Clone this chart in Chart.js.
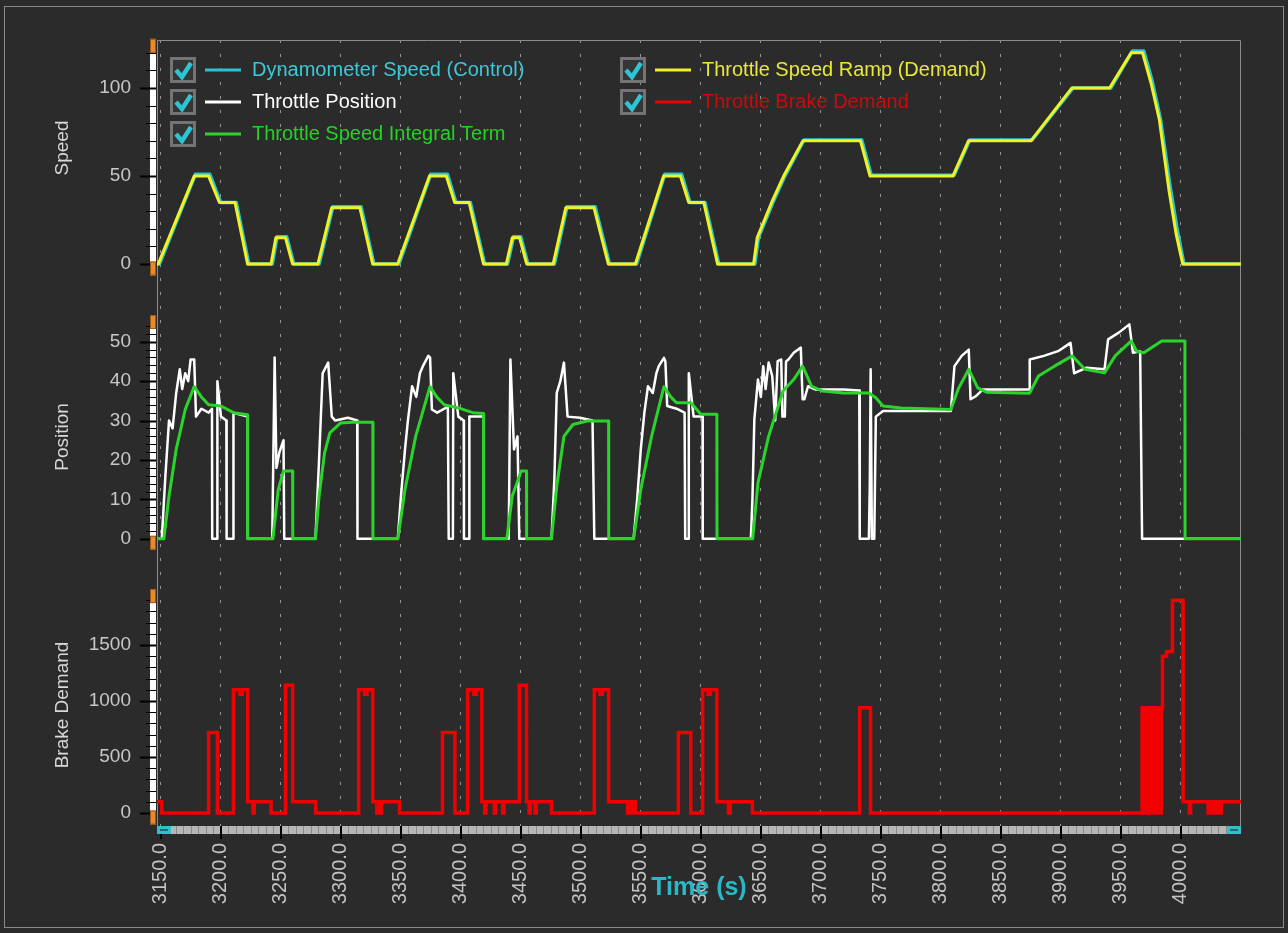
<!DOCTYPE html>
<html>
<head>
<meta charset="utf-8">
<title>Throttle / dyno log</title>
<script src="https://cdn.jsdelivr.net/npm/chart.js@4.4.1/dist/chart.umd.min.js"></script>
<style>
  html, body { margin: 0; padding: 0; background: #2b2b2b; }
  #wrap { position: relative; width: 1288px; height: 933px; }
</style>
</head>
<body>
<div id="wrap"><canvas id="myChart"></canvas></div>
<script>
// time ticks (s) and per-panel tick labels
const timeTicks = [3150, 3200, 3250, 3300, 3350, 3400, 3450, 3500, 3550, 3600, 3650, 3700, 3750, 3800, 3850, 3900, 3950, 4000];
const speedTicks = [0, 50, 100];
const posTicks = [0, 10, 20, 30, 40, 50];
const brakeTicks = [0, 500, 1000, 1500];

// Throttle Speed Ramp (Demand)
const rampT = [3147, 3148, 3178, 3190, 3199, 3212, 3222.5, 3242, 3246, 3254, 3260, 3281, 3292.5, 3316, 3326.7, 3347.5,
  3374, 3388, 3395, 3407, 3419, 3438, 3443, 3449, 3455, 3477, 3487.5, 3511, 3523, 3545.5, 3569, 3583,
  3590, 3602.5, 3614, 3644, 3647, 3659, 3669, 3685, 3733, 3741, 3810, 3823, 3875, 3909, 3940.5, 3958.5,
  3968, 3975, 3982, 3990, 3996, 4001.5, 4050];
const rampV = [0, 0, 50, 50, 35, 35, 0, 0, 15, 15, 0, 0, 32, 32, 0, 0,
  50, 50, 35, 35, 0, 0, 15, 15, 0, 0, 32, 32, 0, 0, 50, 50,
  35, 35, 0, 0, 15, 35, 50, 70, 70, 50, 50, 70, 70, 100, 100, 120,
  120, 103, 82, 42, 17, 0, 0];

// Dynamometer Speed (Control)
const dynT = [3147, 3149, 3179, 3191, 3200, 3213, 3223.5, 3243, 3247, 3255, 3261, 3282, 3293.5, 3317, 3327.7, 3348.5,
  3375, 3389, 3396, 3408, 3420, 3439, 3444, 3450, 3456, 3478, 3488.5, 3512, 3524, 3546.5, 3570, 3584,
  3591, 3603.5, 3615, 3645, 3648, 3660, 3670, 3686, 3734, 3742, 3811, 3824, 3876, 3910, 3941.5, 3959.5,
  3969, 3976, 3983, 3991, 3997, 4002.5, 4050];
const dynV = [0, 0, 51, 51, 35, 35, 0, 0, 15.5, 15.5, 0, 0, 32.5, 32.5, 0, 0,
  51, 51, 35, 35, 0, 0, 15.5, 15.5, 0, 0, 32.5, 32.5, 0, 0, 51, 51,
  35, 35, 0, 0, 15, 35, 50, 70.5, 70.5, 50.5, 50.5, 70.5, 70.5, 100, 100, 121,
  121, 104, 82, 44, 19, 0, 0];

// Throttle Position
const throttleT = [
  3147, 3151, 3154, 3157, 3160, 3163, 3166, 3168, 3170.5, 3173, 3175, 3178, 3179.5, 3184, 3190, 3192.8, 3193, 3197, 3197.3, 3200.3, 3204.8, 3205, 3210.5, 3210.7, 3222.5, 3222.6,
  3243, 3245, 3246.5, 3249, 3252.4, 3253,
  3279, 3282, 3285, 3289.6, 3292.6, 3295.5, 3306, 3313.8, 3314,
  3347.6, 3350, 3353.6, 3356, 3359.5, 3363, 3366, 3368.5, 3373, 3374.5, 3376, 3380.4, 3389.3, 3390, 3393.5, 3393.8, 3398, 3402.5, 3402.7, 3407, 3407.2, 3419, 3419.1,
  3440, 3441.4, 3444.4, 3447.3, 3448.8,
  3475.6, 3478, 3480, 3483, 3486, 3489, 3499.4, 3509.8, 3511.3,
  3544, 3547, 3550, 3553, 3556, 3560, 3563, 3565, 3569.3, 3570.5, 3572, 3579.8, 3586.5, 3587, 3589.8, 3590, 3594, 3601.5, 3601.6,
  3641.7, 3643, 3644.6, 3647.6, 3650, 3652, 3654, 3656.5, 3659.5, 3662, 3664, 3667, 3668, 3670, 3671, 3673, 3677.4, 3683.3, 3684.8, 3686.3,
  3689.3, 3695.2, 3719, 3732, 3732.4, 3740, 3740.8, 3741.5, 3742.5, 3744.5, 3745.8, 3751.8, 3808.3, 3811.3, 3817.3, 3823.2, 3824.7, 3829.2, 3835, 3873.8,
  3874, 3885.7, 3897.6, 3908, 3911, 3921.4, 3936.3, 3939.3, 3948.2, 3957, 3960, 3966, 3967.6, 4050];
const throttleV = [
  0, 0, 16, 30, 28, 37, 43, 38, 42, 40, 45.5, 45.5, 31, 33, 32, 33, 0, 0, 40, 31, 30, 0, 0, 32, 31, 0,
  0, 46, 18, 22, 25, 0,
  0, 20, 42, 44.7, 31, 30, 30.7, 30, 0,
  0, 10, 22.7, 30, 38.7, 36, 42, 43.8, 46.4, 46, 32.8, 32, 33.5, 0, 0, 42, 31, 30, 0, 0, 31, 31, 0,
  0, 45.5, 22.7, 26, 0,
  0, 15, 37, 40, 44.7, 31, 30.7, 30, 0,
  0, 10, 22.7, 32, 38.7, 37, 42, 43.8, 45.9, 45, 33.7, 33, 32, 0, 0, 42, 31, 31, 0,
  0, 10, 30.3, 40.4, 36, 43.8, 38, 44.7, 41.3, 30, 45.1, 45.5, 31, 31, 45, 45.5, 47.2, 48.5, 35.4, 35.4,
  38.7, 37.9, 37.9, 37.6, 0, 0, 14, 43, 0, 0, 31, 32.4, 32.4, 43.8, 46.4, 48, 35.4, 36.2, 37.9, 37.9,
  45.5, 46.4, 47.6, 49.7, 42, 43.4, 43, 50.6, 52.3, 54.4, 47.2, 47.6, 0, 0];

// Throttle Speed Integral Term
const integralT = [3147, 3152.7, 3157, 3163, 3170.5, 3178, 3184, 3190, 3200.3, 3210.7,
  3222.5, 3222.6, 3243.5, 3248, 3252.4, 3260, 3260.1, 3279, 3282, 3286.6,
  3291, 3300, 3310, 3326.8, 3326.9, 3347.6, 3353.6, 3362.5, 3374.4, 3380,
  3386.3, 3398.2, 3410, 3419, 3419.1, 3438.4, 3442.9, 3450.3, 3454.8, 3454.9,
  3475.6, 3480, 3486, 3493.5, 3505.4, 3523.2, 3523.3, 3544, 3550, 3559,
  3569.3, 3575, 3579.8, 3591.7, 3600, 3613.4, 3613.5, 3643.2, 3647.6, 3656.5,
  3668.5, 3677.4, 3684.8, 3692.3, 3701.2, 3719, 3740, 3745.8, 3751.8, 3766.7,
  3808.3, 3814.3, 3823.2, 3830.7, 3838, 3873.8, 3881.3, 3894.6, 3909.5, 3920,
  3936.3, 3945.2, 3958.6, 3963, 3969, 3984, 4003.3, 4003.4, 4050];
const integralV = [0, 0, 10.8, 22.7, 32.8, 38.6, 36, 34, 33.7, 32,
  31.5, 0, 0, 12.5, 17.2, 17.2, 0, 0, 10.8, 21.8,
  26.9, 29.4, 29.6, 29.6, 0, 0, 12.5, 26, 38.6, 36,
  34, 33.2, 32, 31.8, 0, 0, 10.8, 17.2, 17.2, 0,
  0, 13.4, 26, 29, 29.9, 29.9, 0, 0, 12.5, 26,
  38.6, 36, 34.5, 34.5, 31.6, 31.6, 0, 0, 14.2, 26,
  37.5, 40.4, 43.8, 38.7, 37.5, 37, 37, 35.8, 33.7, 33.2,
  32.8, 37.9, 43, 38.3, 37.2, 36.9, 41.3, 43.8, 46.4, 43,
  42.1, 46.4, 50.2, 47.6, 47.2, 50.2, 50.2, 0, 0];

// Throttle Brake Demand (value holds from each time until the next)
const brakeT = [
  3147, 3151, 3190, 3197.3, 3210.7, 3216, 3218, 3222.6, 3227, 3228, 3242, 3254, 3260, 3279.2,
  3315, 3320, 3322, 3326.8, 3330, 3331, 3333, 3334, 3349, 3384.8, 3395.2,
  3405.7, 3411, 3413, 3417.6, 3420, 3421, 3428, 3429, 3435, 3436, 3448.8, 3454.8, 3457, 3458, 3462, 3463, 3475.6,
  3511.3, 3516, 3518, 3523.2, 3539, 3540, 3542, 3543, 3545.5, 3581.3, 3591.7,
  3601.5, 3606, 3608, 3613.4, 3623, 3624.5, 3643, 3732.4, 3741.4,
  3967.6, 3968.6, 3969.6, 3970.6, 3971.6, 3972.6, 3973.6, 3974.6, 3975.6, 3976.6, 3977.6, 3978.6, 3979.6, 3980.6, 3981.6, 3982.6, 3983.6, 3984.6, 3988, 3992.9, 4001.8,
  4007, 4008, 4022.6, 4023.6, 4024.6, 4025.6, 4026.6, 4027.6, 4028.6, 4029.6, 4030.6, 4031.6, 4032.6, 4033.6, 4050];
const brakeV = [
  100, 0, 720, 0, 1100, 1060, 1100, 100, 0, 100, 0, 1140, 100, 0,
  1100, 1060, 1100, 100, 0, 100, 0, 100, 0, 720, 0,
  1100, 1060, 1100, 100, 0, 100, 0, 100, 0, 100, 1140, 100, 0, 100, 0, 100, 0,
  1100, 1060, 1100, 100, 0, 100, 0, 100, 0, 720, 0,
  1100, 1060, 1100, 100, 0, 100, 0, 940, 0,
  940, 0, 940, 0, 940, 0, 940, 0, 940, 0, 940, 0, 940, 0, 940, 0, 940, 1400, 1440, 1900, 100,
  0, 100, 0, 100, 0, 100, 0, 100, 0, 100, 0, 100, 0, 100, 100];

const FONT = '"Liberation Sans", Arial, sans-serif';
const toPoints = (ts, vs) => ts.map((t, i) => ({x: t, y: vs[i]}));
const setTicks = list => axis => { axis.ticks = list.map(v => ({value: v})); };

// left ruler: range marked by orange handles, minor/major tick steps
const rulers = [
  {id: 'ySpeed', lo: -2.5, hi: 124, minor: 10, major: 50},
  {id: 'yPos', lo: -1, hi: 55, minor: 2, major: 10},
  {id: 'yBrake', lo: -40, hi: 1937, minor: 100, major: 500}
];

const legendItems = [
  {ds: 1, col: 0, row: 0, text: '#3cc8d8'},
  {ds: 3, col: 0, row: 1, text: '#ffffff'},
  {ds: 2, col: 0, row: 2, text: '#22d422'},
  {ds: 0, col: 1, row: 0, text: '#e8e83c'},
  {ds: 4, col: 1, row: 1, text: '#c80c0c'}
];

const yAxis = (weight, min, max, ticks) => ({
  type: 'linear', position: 'left', stack: 'panels', stackWeight: weight,
  min: min, max: max,
  afterBuildTicks: setTicks(ticks),
  afterFit: s => { s.width = 150; },
  grid: {display: false, drawTicks: false},
  border: {display: false},
  ticks: {color: '#c8c8c8', font: {family: FONT, size: 19}, padding: 26, callback: v => String(v)}
});

const decor = {
  id: 'decor',
  beforeDraw(chart) {
    const ctx = chart.ctx;
    ctx.save();
    ctx.fillStyle = '#2b2b2b';
    ctx.fillRect(0, 0, chart.width, chart.height);
    ctx.strokeStyle = '#8a8a8a';
    ctx.lineWidth = 1;
    ctx.strokeRect(4.5, 6.5, chart.width - 9, chart.height - 12);
    ctx.restore();
  },
  beforeDatasetsDraw(chart) {
    const {ctx, chartArea: a} = chart;
    ctx.save();
    ctx.strokeStyle = '#8c8c8c';
    ctx.lineWidth = 1;
    ctx.beginPath();
    ctx.moveTo(a.left + 0.5, a.bottom);
    ctx.lineTo(a.left + 0.5, a.top + 0.5);
    ctx.lineTo(a.right - 0.5, a.top + 0.5);
    ctx.lineTo(a.right - 0.5, a.bottom);
    ctx.stroke();
    ctx.restore();
  },
  afterDatasetsDraw(chart) {
    const ctx = chart.ctx;
    ctx.save();
    ctx.font = '20px ' + FONT;
    ctx.textBaseline = 'middle';
    legendItems.forEach(it => {
      const ds = chart.data.datasets[it.ds];
      const bx = [170, 620][it.col];
      const y = 70 + it.row * 32;
      ctx.fillStyle = '#353535';
      ctx.fillRect(bx, y - 13, 26, 26);
      ctx.strokeStyle = '#747474';
      ctx.lineWidth = 3;
      ctx.strokeRect(bx + 1.5, y - 11.5, 23, 23);
      ctx.strokeStyle = '#2ec4d4';
      ctx.lineWidth = 4.5;
      ctx.lineCap = 'butt';
      ctx.beginPath();
      ctx.moveTo(bx + 6, y);
      ctx.lineTo(bx + 12, y + 7);
      ctx.lineTo(bx + 21, y - 7);
      ctx.stroke();
      ctx.strokeStyle = ds.borderColor;
      ctx.lineWidth = 3;
      ctx.beginPath();
      ctx.moveTo(bx + 35, y);
      ctx.lineTo(bx + 71, y);
      ctx.stroke();
      ctx.fillStyle = it.text;
      ctx.fillText(ds.label, bx + 82, y);
    });
    ctx.restore();
  },
  afterDraw(chart) {
    const {ctx, chartArea: a} = chart;
    ctx.save();
    // left rulers
    rulers.forEach(r => {
      const s = chart.scales[r.id];
      const yTop = s.getPixelForValue(r.hi);
      const yBot = s.getPixelForValue(r.lo);
      ctx.fillStyle = '#ffffff';
      ctx.fillRect(a.left - 7, yTop, 6, yBot - yTop);
      for (let v = Math.ceil(r.lo / r.minor) * r.minor; v <= r.hi; v += r.minor) {
        const y = Math.round(s.getPixelForValue(v)) + 0.5;
        const major = Math.abs(v % r.major) < 1e-6;
        ctx.strokeStyle = '#000000';
        ctx.lineWidth = major ? 2 : 1;
        ctx.beginPath();
        ctx.moveTo(a.left - (major ? 17 : 11), y);
        ctx.lineTo(a.left - 1, y);
        ctx.stroke();
      }
      [yTop, yBot].forEach(y => {
        ctx.fillStyle = '#e8892c';
        ctx.fillRect(a.left - 7, y - 7, 6, 14);
        ctx.strokeStyle = '#a05a16';
        ctx.lineWidth = 1;
        ctx.strokeRect(a.left - 6.5, y - 6.5, 5, 13);
      });
    });
    // bottom strip
    const xs = chart.scales.x;
    ctx.fillStyle = '#b6b6b6';
    ctx.fillRect(a.left, a.bottom, a.right - a.left, 8);
    ctx.strokeStyle = '#8a8a8a';
    ctx.lineWidth = 1;
    for (let t = 3150; t < 4050; t += 6.25) {
      const x = Math.round(xs.getPixelForValue(t)) + 0.5;
      ctx.beginPath();
      ctx.moveTo(x, a.bottom);
      ctx.lineTo(x, a.bottom + 8);
      ctx.stroke();
    }
    ctx.strokeStyle = '#000000';
    ctx.lineWidth = 2;
    timeTicks.forEach(t => {
      const x = Math.round(xs.getPixelForValue(t));
      ctx.beginPath();
      ctx.moveTo(x, a.bottom);
      ctx.lineTo(x, a.bottom + 13);
      ctx.stroke();
    });
    [a.left, a.right - 14].forEach(x => {
      ctx.fillStyle = '#2fc0cc';
      ctx.fillRect(x, a.bottom, 14, 8);
      ctx.fillStyle = '#1a6a70';
      ctx.fillRect(x + 3, a.bottom + 3, 8, 2);
    });
    // axis titles
    ctx.fillStyle = '#d8d8d8';
    ctx.font = '19px ' + FONT;
    ctx.textAlign = 'center';
    ctx.textBaseline = 'middle';
    [['Speed', 148], ['Position', 437], ['Brake Demand', 705]].forEach(([txt, y]) => {
      ctx.save();
      ctx.translate(63, y);
      ctx.rotate(-Math.PI / 2);
      ctx.fillText(txt, 0, 0);
      ctx.restore();
    });
    ctx.fillStyle = '#2ab8c8';
    ctx.font = 'bold 25px ' + FONT;
    ctx.fillText('Time (s)', (a.left + a.right) / 2, 888);
    ctx.restore();
  }
};

const config = {
  type: 'line',
  data: {
    datasets: [
      {label: 'Throttle Speed Ramp (Demand)', data: toPoints(rampT, rampV), yAxisID: 'ySpeed',
        borderColor: '#f2f222', borderWidth: 3, order: 1},
      {label: 'Dynamometer Speed (Control)', data: toPoints(dynT, dynV), yAxisID: 'ySpeed',
        borderColor: '#28c4d4', borderWidth: 3.5, order: 2},
      {label: 'Throttle Speed Integral Term', data: toPoints(integralT, integralV), yAxisID: 'yPos',
        borderColor: '#2ad42a', borderWidth: 3, order: 1},
      {label: 'Throttle Position', data: toPoints(throttleT, throttleV), yAxisID: 'yPos',
        borderColor: '#ffffff', borderWidth: 2.5, order: 2},
      {label: 'Throttle Brake Demand', data: toPoints(brakeT, brakeV), yAxisID: 'yBrake',
        borderColor: '#f00000', borderWidth: 3.5, stepped: true, borderJoinStyle: 'miter', order: 1}
    ]
  },
  options: {
    animation: false,
    responsive: true,
    maintainAspectRatio: false,
    events: [],
    layout: {padding: {top: 40, left: 7, right: 47, bottom: 7}},
    elements: {point: {radius: 0}, line: {tension: 0, borderJoinStyle: 'round'}},
    plugins: {legend: {display: false}, tooltip: {enabled: false}},
    scales: {
      x: {
        type: 'linear', min: 3147, max: 4050,
        afterBuildTicks: setTicks(timeTicks),
        afterFit: s => { s.height = 100; },
        grid: {color: '#949494', lineWidth: 1, drawTicks: false},
        border: {display: false, dash: [3, 11]},
        ticks: {color: '#c4c4c4', font: {family: FONT, size: 20}, minRotation: 90, maxRotation: 90,
          autoSkip: false, padding: 17, callback: v => Number(v).toFixed(1)}
      },
      yBrake: yAxis(256, -116, 2170, brakeTicks),
      yPos: yAxis(276, -7.9, 62.1, posTicks),
      ySpeed: yAxis(254, -17, 127.3, speedTicks)
    }
  },
  plugins: [decor]
};

document.addEventListener('DOMContentLoaded', () => {
  new Chart(document.getElementById('myChart'), config);
});
</script>
</body>
</html>
